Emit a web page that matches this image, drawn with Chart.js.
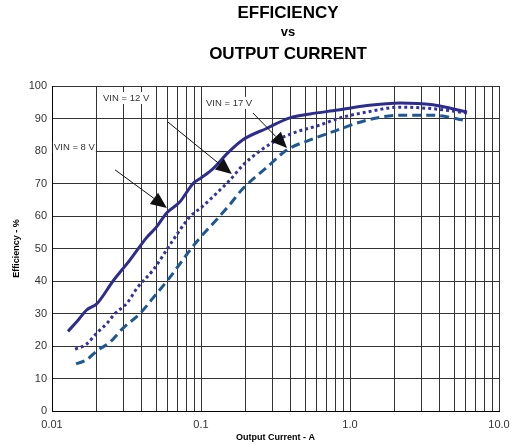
<!DOCTYPE html>
<html>
<head>
<meta charset="utf-8">
<script src="https://cdn.jsdelivr.net/npm/chart.js@4/dist/chart.umd.min.js"></script>
<style>
    body { margin: 0; background: #fff; }
    #wrap { position: relative; width: 511px; height: 444px; }
    .ttl { position: absolute; left: 188px; width: 200px; text-align: center;
           font-family: 'Liberation Sans', Arial, sans-serif; font-weight: bold; color: #000; }
</style>
</head>
<body>
<div id="wrap">
    <canvas id="effchart" width="511" height="444"></canvas>
    <div class="ttl" style="top:3px;font-size:17px;line-height:20px;">EFFICIENCY</div>
    <div class="ttl" style="top:25px;font-size:13px;line-height:14px;">vs</div>
    <div class="ttl" style="top:44px;font-size:17px;line-height:20px;">OUTPUT CURRENT</div>
</div>
<script>
// output current (A) and efficiency (%) for each input voltage
const current8 = [0.0128, 0.015, 0.017, 0.02, 0.0257, 0.0334, 0.0434, 0.05, 0.059, 0.072, 0.0885, 0.1, 0.12, 0.152, 0.19, 0.277, 0.395, 0.54, 0.83, 1.3, 2.17, 3.6, 6.1];
const eff8 =     [24.5, 28, 31, 33, 40, 46.5, 53.5, 56.5, 61, 64.3, 70, 71.7, 74.5, 79.5, 83.4, 87, 90.2, 91.4, 92.6, 94, 94.8, 94.2, 92];

const current12 = [0.0143, 0.017, 0.02, 0.0234, 0.0265, 0.0319, 0.0372, 0.0477, 0.065, 0.084, 0.1015, 0.134, 0.156, 0.19, 0.24, 0.3, 0.414, 0.63, 0.83, 1.3, 2.17, 3.6, 6.1];
const eff12 =     [19, 20.5, 24, 27, 30, 33.2, 37.8, 43.4, 52.6, 59.7, 62.8, 68, 71, 75.5, 79.5, 82.5, 85.5, 88, 90, 92, 93.5, 93, 91.7];

const current17 = [0.0145, 0.017, 0.02, 0.0245, 0.03, 0.039, 0.0477, 0.062, 0.0844, 0.098, 0.128, 0.156, 0.19, 0.277, 0.376, 0.54, 0.83, 1.3, 2.17, 3.6, 6.1];
const eff17 =     [14.5, 15.7, 18.5, 21.2, 25.5, 30, 34.8, 41.2, 49.5, 53.2, 59, 63.5, 68.3, 75, 80.3, 83.4, 86.5, 89.5, 91, 91, 89.3];

const decadeLabels = ['0.01', '0.1', '1.0', '10.0'];

// callouts: label anchor and arrow tail/tip, in axis units
const noteText = ['VIN = 8 V', 'VIN = 12 V', 'VIN = 17 V'];
const noteAt   = [[0.0103, 81.2], [0.022, 96.3], [0.108, 94.8]];
const arrowTail = [[0.0265, 74.2], [0.060, 88.9], [0.223, 91.7]];
const arrowTip  = [[0.059, 62.5], [0.161, 72.9], [0.378, 80.9]];

function pts(xs, ys) {
    return xs.map((x, i) => ({ x: x, y: ys[i] }));
}

const calloutPlugin = {
    id: 'callouts',
    afterDatasetsDraw(chart) {
        const ctx = chart.ctx;
        const xs = chart.scales.x, ys = chart.scales.y;
        ctx.save();
        ctx.font = '9.5px "Liberation Sans", Arial, sans-serif';
        ctx.textBaseline = 'middle';
        noteText.forEach((t, i) => {
            const px = xs.getPixelForValue(noteAt[i][0]);
            const py = ys.getPixelForValue(noteAt[i][1]);
            ctx.fillStyle = '#fff';
            ctx.fillRect(px - 1, py - 6, ctx.measureText(t).width + 2, 12);
            ctx.fillStyle = '#333';
            ctx.fillText(t, px, py);
        });
        ctx.strokeStyle = '#111';
        ctx.fillStyle = '#111';
        ctx.lineWidth = 1;
        arrowTail.forEach((a, i) => {
            const x0 = xs.getPixelForValue(a[0]), y0 = ys.getPixelForValue(a[1]);
            const x1 = xs.getPixelForValue(arrowTip[i][0]), y1 = ys.getPixelForValue(arrowTip[i][1]);
            const ang = Math.atan2(y1 - y0, x1 - x0);
            const len = 16, half = 7;
            const bx = x1 - len * Math.cos(ang), by = y1 - len * Math.sin(ang);
            ctx.beginPath();
            ctx.moveTo(x0, y0);
            ctx.lineTo(bx, by);
            ctx.stroke();
            ctx.beginPath();
            ctx.moveTo(x1, y1);
            ctx.lineTo(bx + half * Math.sin(ang), by - half * Math.cos(ang));
            ctx.lineTo(bx - half * Math.sin(ang), by + half * Math.cos(ang));
            ctx.closePath();
            ctx.fill();
        });
        ctx.restore();
    }
};

const tickFont = { family: '"Liberation Sans", Arial, sans-serif', size: 11 };
const titleFont = { family: '"Liberation Sans", Arial, sans-serif', size: 9, weight: 'bold' };

new Chart(document.getElementById('effchart'), {
    type: 'line',
    data: {
        datasets: [
            { label: 'VIN = 8 V', data: pts(current8, eff8), borderColor: '#2d2d8f', borderWidth: 3, cubicInterpolationMode: 'monotone' },
            { label: 'VIN = 12 V', data: pts(current12, eff12), borderColor: '#3434a0', borderWidth: 3, borderDash: [3, 3], cubicInterpolationMode: 'monotone' },
            { label: 'VIN = 17 V', data: pts(current17, eff17), borderColor: '#1e5896', borderWidth: 3, borderDash: [9, 5], cubicInterpolationMode: 'monotone' }
        ]
    },
    options: {
        responsive: false,
        animation: false,
        elements: { point: { radius: 0 } },
        layout: { padding: { top: 86, right: 12, left: 0, bottom: 0 } },
        plugins: { legend: { display: false }, tooltip: { enabled: false } },
        scales: {
            x: {
                type: 'logarithmic',
                min: 0.01,
                max: 10,
                afterBuildTicks(scale) {
                    const t = [];
                    [0.01, 0.1, 1].forEach(d => {
                        for (let k = 1; k < 10; k++) t.push({ value: +(d * k).toPrecision(3) });
                    });
                    t.push({ value: 10 });
                    scale.ticks = t;
                },
                afterFit(scale) {
                    scale.height = 33;
                    scale.paddingLeft = 0;
                    scale.paddingRight = 0;
                },
                ticks: {
                    autoSkip: false,
                    maxRotation: 0,
                    padding: 7,
                    color: '#333',
                    font: tickFont,
                    callback(v) {
                        const i = [0.01, 0.1, 1, 10].indexOf(v);
                        return i >= 0 ? decadeLabels[i] : '';
                    }
                },
                grid: { color: '#333', lineWidth: 1, drawTicks: false },
                border: { color: '#000' },
                title: { display: true, text: 'Output Current - A', color: '#000', font: titleFont, padding: { top: 0, bottom: 1 } }
            },
            y: {
                min: 0,
                max: 100,
                afterFit(scale) { scale.width = 52; },
                ticks: { stepSize: 10, padding: 5, color: '#333', font: tickFont },
                grid: { color: '#333', lineWidth: 1, drawTicks: false },
                border: { color: '#000' },
                title: { display: true, text: 'Efficiency - %', color: '#000', font: titleFont, padding: { top: 11, bottom: 0 } }
            }
        }
    },
    plugins: [calloutPlugin]
});
</script>
</body>
</html>
